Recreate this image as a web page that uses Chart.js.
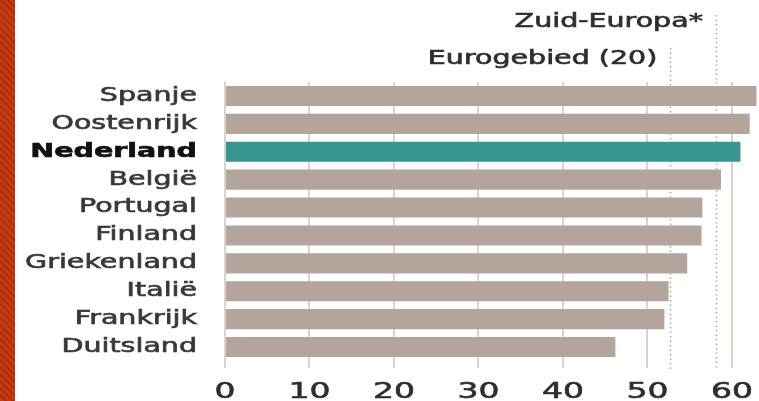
<!DOCTYPE html>
<html lang="nl">
  <head>
    <meta charset="UTF-8" />
    <title>Eurogebied - staafdiagram</title>
    <script src="https://cdn.jsdelivr.net/npm/chart.js"></script>
    <style>
      body {
        margin: 0;
        background: #ffffff;
      }
      .wrap {
        position: relative;
        width: 759px;
        height: 401px;
      }
      .stripe {
        position: absolute;
        left: 0;
        top: 0;
        width: 15px;
        height: 401px;
        background: repeating-linear-gradient(
          45deg,
          #c53a13 0 3px,
          #ad2d0c 3px 5px
        );
      }
    </style>
  </head>
  <body>
    <div class="wrap">
      <canvas id="chart"></canvas>
      <div class="stripe"></div>
    </div>

    <script>
      const landen = [
        "Spanje",
        "Oostenrijk",
        "Nederland",
        "België",
        "Portugal",
        "Finland",
        "Griekenland",
        "Italië",
        "Frankrijk",
        "Duitsland",
      ];
      const waarden = [62.9, 62.1, 61.0, 58.7, 56.5, 56.4, 54.7, 52.5, 52.0, 46.2];
      const referentieLabels = ["Eurogebied (20)", "Zuid-Europa*"];
      const referentieWaarden = [52.7, 58.1];
      const xTicks = [0, 10, 20, 30, 40, 50, 60];

      const BEIGE = "#b3a59c";
      const TEAL = "#379690";
      const FONT = "'DejaVu Sans', sans-serif";
      const STRETCH = 1.5; // letters in the original are wide

      const canvas = document.getElementById("chart");
      const ctx = canvas.getContext("2d");

      // draw all text horizontally stretched and a bit heavier
      const origFillText = ctx.fillText;
      ctx.fillText = function (text, x, y, maxWidth) {
        this.save();
        this.translate(x, y);
        this.scale(STRETCH, 1);
        this.strokeStyle = this.fillStyle;
        this.lineWidth = 0.6;
        this.setLineDash([]);
        if (maxWidth !== undefined) {
          origFillText.call(this, text, 0, 0, maxWidth / STRETCH);
          this.strokeText(text, 0, 0, maxWidth / STRETCH);
        } else {
          origFillText.call(this, text, 0, 0);
          this.strokeText(text, 0, 0);
        }
        this.restore();
      };

      // dotted reference lines with their labels
      const referentieLijnen = {
        id: "referentieLijnen",
        beforeDatasetsDraw(chart) {
          const c = chart.ctx;
          const x = chart.scales.x;
          const bottom = chart.chartArea.bottom + 8;
          const tops = [48, 15];
          c.save();
          referentieWaarden.forEach((v, i) => {
            const px = Math.round(x.getPixelForValue(v)) + 0.5;
            c.strokeStyle = "#a8a8a8";
            c.lineWidth = 1.5;
            c.setLineDash([1.5, 3]);
            c.beginPath();
            c.moveTo(px, tops[i]);
            c.lineTo(px, bottom);
            c.stroke();
          });
          c.restore();
        },
        afterDraw(chart) {
          const c = chart.ctx;
          const x = chart.scales.x;
          const textY = [59, 22];
          c.save();
          c.font = "19px " + FONT;
          c.fillStyle = "#2e2e2e";
          c.textAlign = "right";
          c.textBaseline = "middle";
          referentieWaarden.forEach((v, i) => {
            const px = x.getPixelForValue(v);
            c.fillText(referentieLabels[i], px - 13, textY[i]);
          });
          c.restore();
        },
      };

      new Chart(ctx, {
        type: "bar",
        data: {
          labels: landen,
          datasets: [
            {
              data: waarden,
              backgroundColor: landen.map((l) =>
                l === "Nederland" ? TEAL : BEIGE
              ),
              borderWidth: 0,
              categoryPercentage: 1,
              barPercentage: 0.72,
            },
          ],
        },
        options: {
          indexAxis: "y",
          responsive: true,
          maintainAspectRatio: false,
          animation: false,
          layout: {
            padding: { top: 82, left: 0, right: 0, bottom: 0 },
          },
          plugins: {
            legend: { display: false },
            tooltip: { enabled: false },
          },
          scales: {
            x: {
              min: 0,
              max: 63.2,
              afterBuildTicks: (axis) => {
                axis.ticks = xTicks.map((v) => ({ value: v }));
              },
              afterFit: (axis) => {
                axis.height = 40;
              },
              grid: {
                color: "#dcd3cd",
                lineWidth: 2,
                tickLength: 7,
                drawTicks: true,
              },
              border: { display: false },
              ticks: {
                padding: 11,
                color: "#2e2e2e",
                font: { family: FONT, size: 22 },
              },
            },
            y: {
              grid: { display: false, drawTicks: false },
              border: { display: false },
              afterFit: (axis) => {
                axis.width = 225;
              },
              ticks: {
                padding: 28,
                color: (c) => (c.index === 2 ? "#111111" : "#383838"),
                font: (c) => ({
                  family: FONT,
                  size: 19,
                  weight: c.index === 2 ? "bold" : "normal",
                }),
              },
            },
          },
        },
        plugins: [referentieLijnen],
      });
    </script>
  </body>
</html>
